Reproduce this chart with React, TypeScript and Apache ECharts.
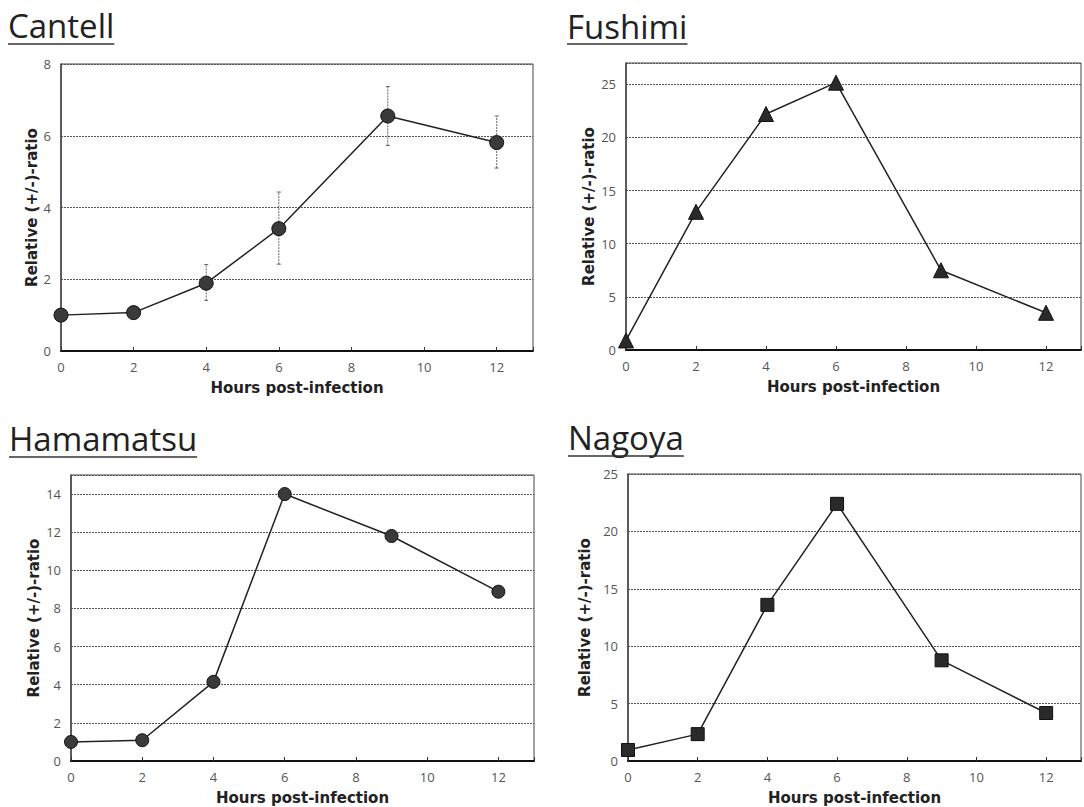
import React, { useEffect, useRef } from "react";
import * as echarts from "echarts";

const hours = [0, 2, 4, 6, 9, 12];
const xTicks = [0, 2, 4, 6, 8, 10, 12];

const cantell = [1.0, 1.07, 1.89, 3.41, 6.55, 5.81];
const cantellErrLow = [1.0, 1.07, 1.41, 2.42, 5.73, 5.1];
const cantellErrHigh = [1.0, 1.07, 2.41, 4.43, 7.37, 6.55];
const fushimi = [0.9, 13.0, 22.2, 25.15, 7.5, 3.5];
const hamamatsu = [1.0, 1.09, 4.15, 14.0, 11.8, 8.88];
const nagoya = [0.96, 2.34, 13.6, 22.4, 8.77, 4.18];

const titles = ["Cantell", "Fushimi", "Hamamatsu", "Nagoya"];
const yMaxes = [8, 27, 15, 25];
const yIntervals = [2, 5, 2, 5];
const xMax = 13;
const yName = "Relative (+/-)-ratio";
const xName = "Hours post-infection";

const panels = [
  { title: titles[0], data: cantell, grid: { left: 61, top: 64, width: 472, height: 287 }, symbol: "circle", size: 14, yGap: 22, tx: 8, ty: 42, uy: 44 },
  { title: titles[1], data: fushimi, grid: { left: 626, top: 63, width: 461, height: 287 }, symbol: "triangle", size: 15, yGap: 30, tx: 567, ty: 43, uy: 44 },
  { title: titles[2], data: hamamatsu, grid: { left: 71, top: 475, width: 463, height: 286 }, symbol: "circle", size: 13, yGap: 30, tx: 9, ty: 455, uy: 457 },
  { title: titles[3], data: nagoya, grid: { left: 628, top: 474, width: 460, height: 287 }, symbol: "rect", size: 13, yGap: 36, tx: 568, ty: 454, uy: 456 },
];

const titleFont = '33px "Open Sans"';

function measure(text: string, font: string): number {
  const c = document.createElement("canvas");
  const ctx = c.getContext("2d");
  if (!ctx) return text.length * 16;
  ctx.font = font;
  return ctx.measureText(text).width;
}

export default function App() {
  const ref = useRef<HTMLDivElement>(null);
  useEffect(() => {
    if (!ref.current) return;
    const chart = echarts.init(ref.current, null, { renderer: "svg" });

    const grids: any[] = [];
    const xAxes: any[] = [];
    const yAxes: any[] = [];
    const series: any[] = [];
    const graphics: any[] = [];

    panels.forEach((p, i) => {
      grids.push({
        ...p.grid,
        show: true,
        borderColor: "#444",
        borderWidth: 1,
        backgroundColor: "transparent",
      });
      xAxes.push({
        gridIndex: i,
        type: "value",
        min: 0,
        max: xMax,
        interval: 2,
        name: xName,
        nameLocation: "middle",
        nameGap: 29,
        nameTextStyle: { fontFamily: "DejaVu Sans", fontWeight: "bold", fontSize: 15, color: "#222" },
        axisLine: { show: true, onZero: false, lineStyle: { color: "#111", width: 2 } },
        axisTick: { show: true, inside: true, length: 4, lineStyle: { color: "#333", width: 1 } },
        axisLabel: {
          margin: 9,
          fontFamily: "Open Sans",
          fontSize: 13,
          color: "#555",
          formatter: (v: number) => (xTicks.indexOf(v) >= 0 ? String(v) : ""),
        },
        splitLine: { show: false },
      });
      yAxes.push({
        gridIndex: i,
        type: "value",
        min: 0,
        max: yMaxes[i],
        interval: yIntervals[i],
        name: yName,
        nameLocation: "middle",
        nameRotate: 90,
        nameGap: p.yGap,
        nameTextStyle: { fontFamily: "DejaVu Sans", fontWeight: "bold", fontSize: 15, color: "#222" },
        axisLine: { show: true, lineStyle: { color: "#444", width: 1.5 } },
        axisTick: { show: false },
        axisLabel: {
          margin: 10,
          fontFamily: "Open Sans",
          fontSize: 13,
          color: "#555",
          formatter: (v: number) => (v % yIntervals[i] === 0 ? String(v) : ""),
        },
        splitLine: { show: true, lineStyle: { color: "#555", width: 1, type: [2, 1] } },
      });
      if (i === 0) {
        series.push({
          type: "custom",
          xAxisIndex: 0,
          yAxisIndex: 0,
          z: 1,
          data: hours.map((h, k) => [h, cantellErrLow[k], cantellErrHigh[k]]),
          renderItem: (params: any, api: any) => {
            const lo = api.coord([api.value(0), api.value(1)]);
            const hi = api.coord([api.value(0), api.value(2)]);
            const st = { stroke: "#666", lineWidth: 1, lineDash: [2, 1] };
            const cap = { stroke: "#666", lineWidth: 1 };
            return {
              type: "group",
              children: [
                { type: "line", shape: { x1: lo[0], y1: lo[1], x2: hi[0], y2: hi[1] }, style: st },
                { type: "line", shape: { x1: hi[0] - 2, y1: hi[1], x2: hi[0] + 2, y2: hi[1] }, style: cap },
                { type: "line", shape: { x1: lo[0] - 2, y1: lo[1], x2: lo[0] + 2, y2: lo[1] }, style: cap },
              ],
            };
          },
        });
      }
      series.push({
        type: "line",
        xAxisIndex: i,
        yAxisIndex: i,
        z: 3,
        data: hours.map((h, k) => [h, p.data[k]]),
        symbol: p.symbol,
        symbolSize: p.size,
        showSymbol: true,
        itemStyle: { color: p.symbol === "circle" ? "#3a3a3a" : "#2a2a2a", borderColor: "#111", borderWidth: 1 },
        lineStyle: { color: "#222", width: 1.5 },
      });

      const w = measure(p.title, titleFont);
      graphics.push({
        type: "text",
        left: p.tx,
        top: p.ty - 33,
        style: { text: p.title, font: titleFont, fill: "#222" },
      });
      graphics.push({
        type: "line",
        shape: { x1: p.tx, y1: p.uy, x2: p.tx + w, y2: p.uy },
        style: { stroke: "#333", lineWidth: 1.5 },
      });
    });

    chart.setOption({
      animation: false,
      backgroundColor: "#fff",
      grid: grids,
      xAxis: xAxes,
      yAxis: yAxes,
      series,
      graphic: graphics,
    });
    return () => chart.dispose();
  }, []);
  return (
    <div
      ref={ref}
      style={{ position: "absolute", left: 0, top: 0, width: 1084, height: 807 }}
    />
  );
}
